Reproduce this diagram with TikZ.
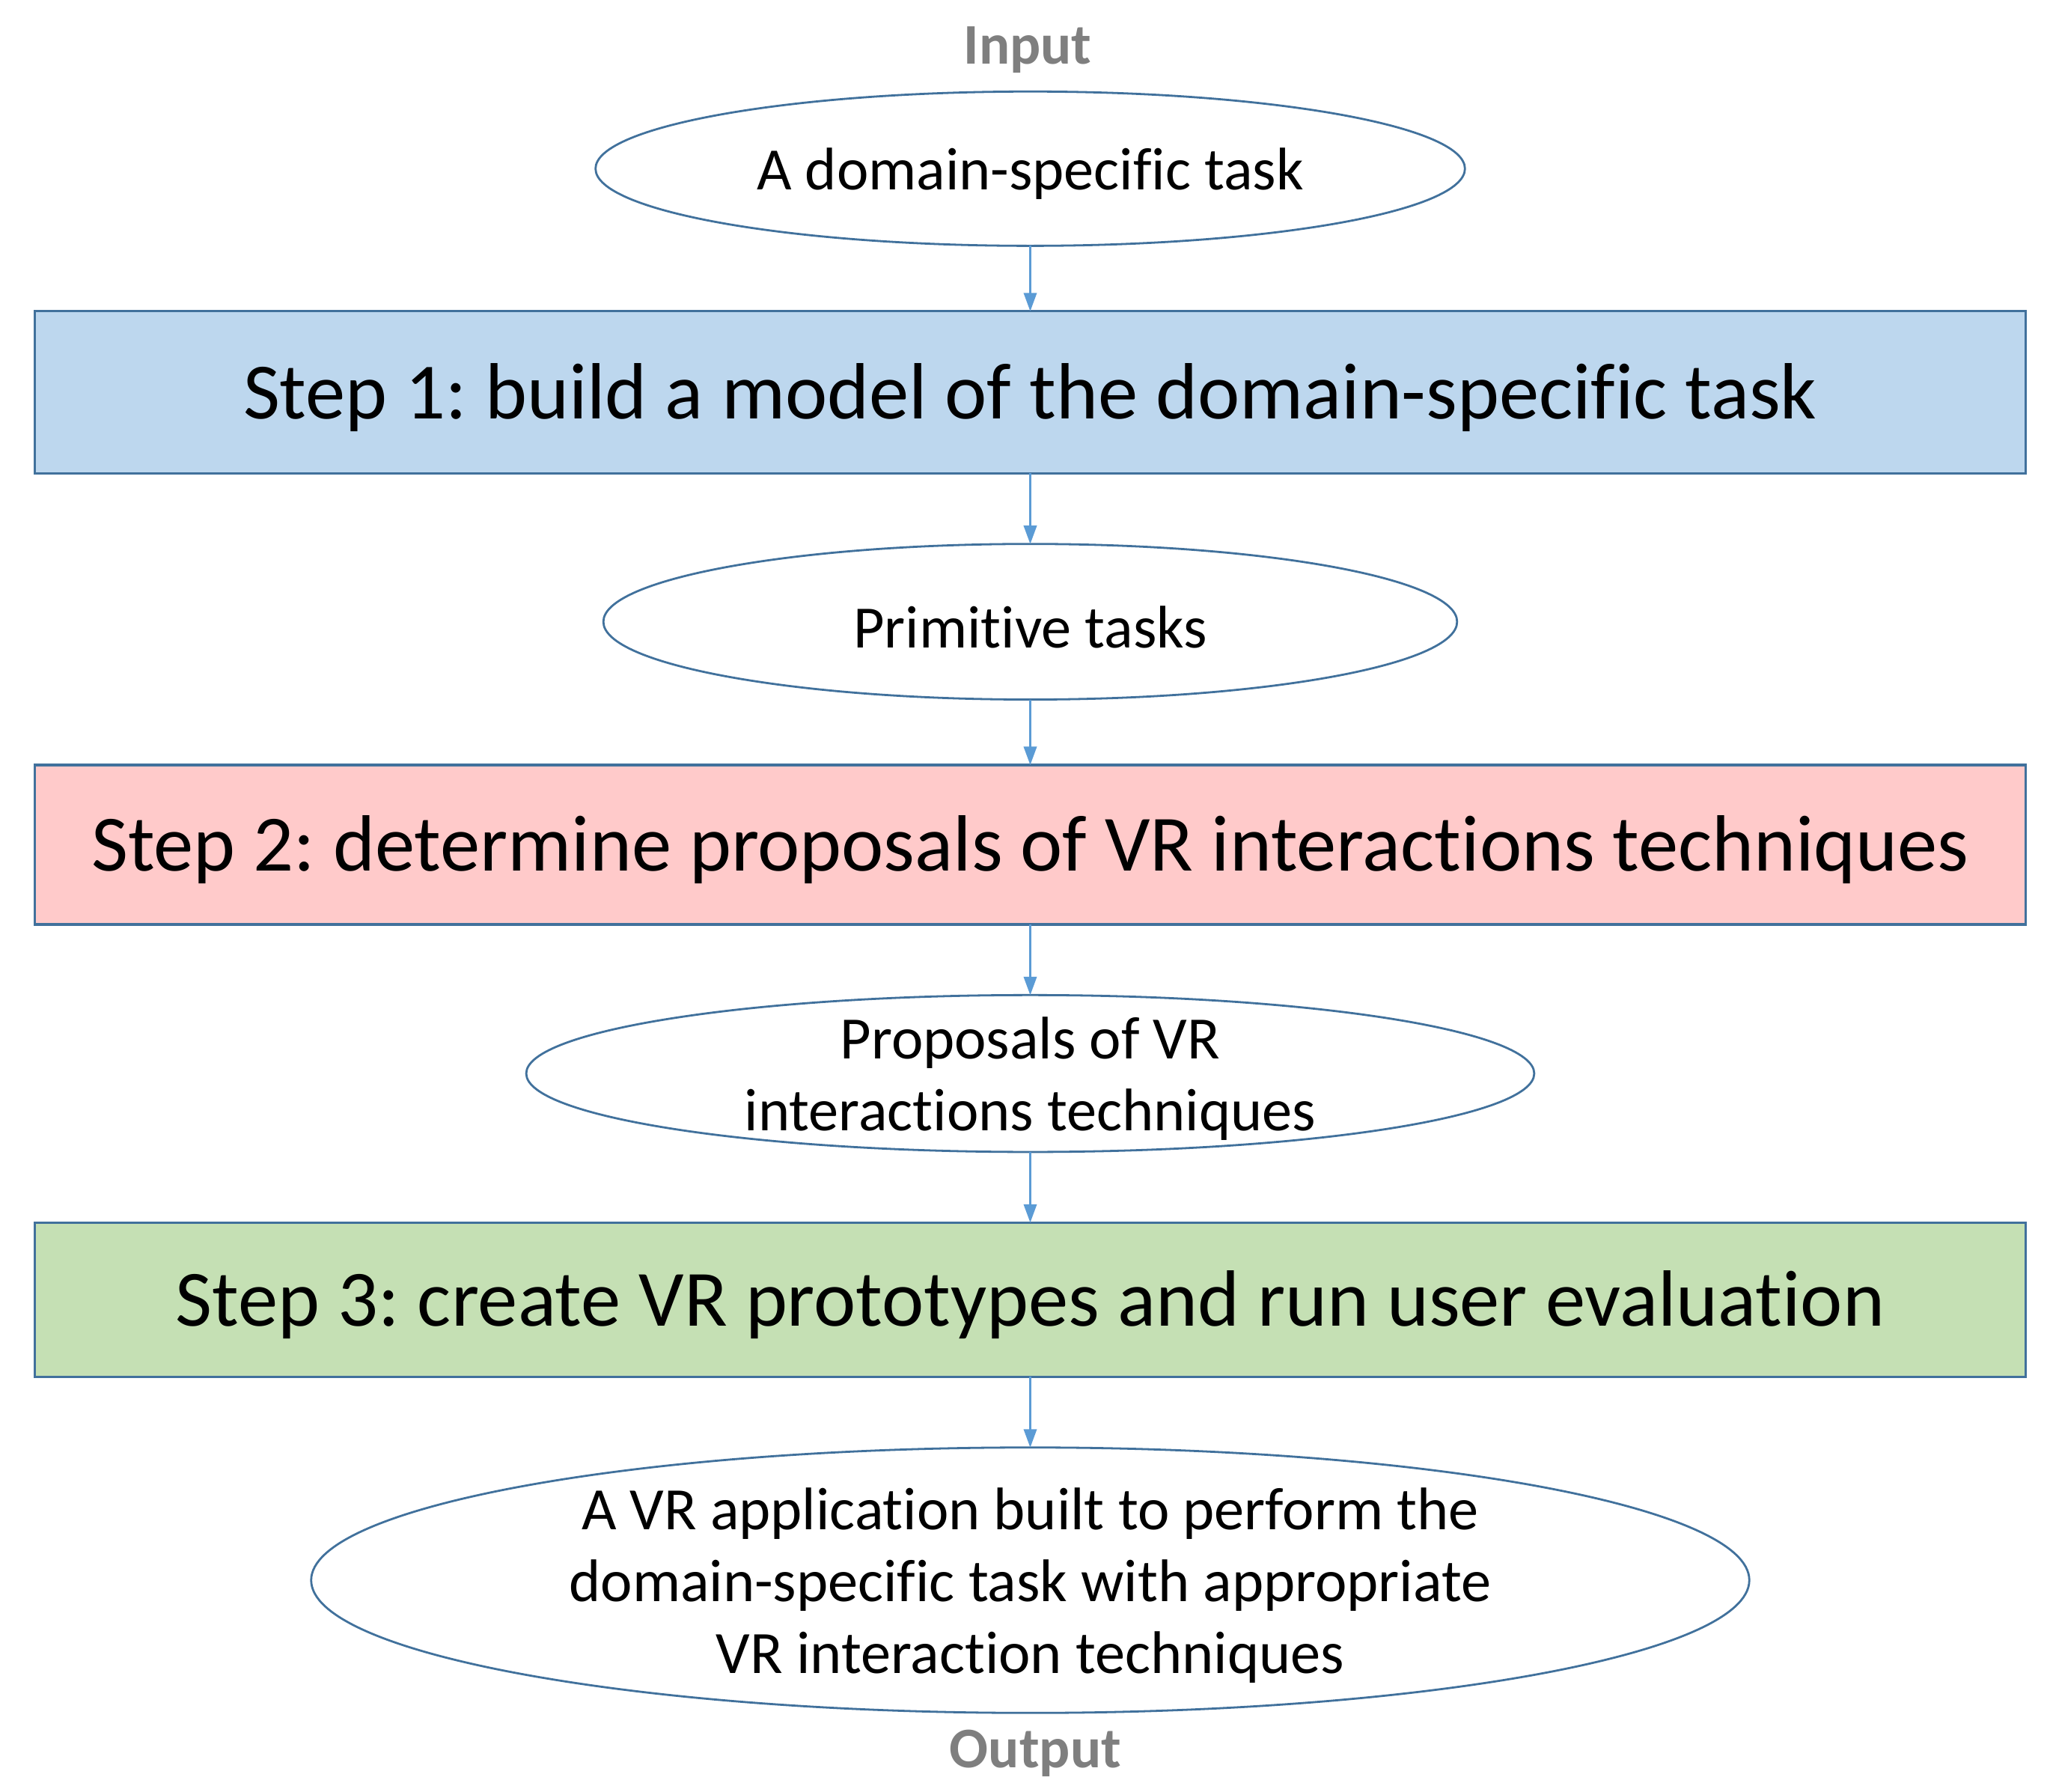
\documentclass[tikz,border=0pt]{standalone}
\usepackage{fontspec}
\setmainfont[Ligatures=NoCommon]{Carlito}
\frenchspacing
\usetikzlibrary{shapes.geometric,arrows.meta}
\definecolor{bordc}{HTML}{41719C}
\definecolor{arrc}{HTML}{5B9BD5}
\definecolor{fillA}{HTML}{BDD7EE}
\definecolor{fillB}{HTML}{FFCACA}
\definecolor{fillC}{HTML}{C5E0B4}
\definecolor{grayt}{HTML}{7F7F7F}
\tikzset{
  ellbox/.style={ellipse, draw=bordc, line width=0.8pt, inner sep=0pt, outer sep=0pt},
  stepbox/.style={rectangle, draw=bordc, line width=1pt, inner sep=0pt, outer sep=0pt,
    minimum width=761.5pt},
  steptext/.style={font=\fontsize{30.5}{36}\selectfont, inner sep=0pt, yshift=-2pt},
  elltext/.style={align=center, font=\fontsize{23}{27.5}\selectfont, inner sep=0pt, yshift=-2pt},
  iolabel/.style={text=grayt, font=\fontsize{22}{26}\selectfont\bfseries, inner sep=0pt, yshift=-1.5pt},
  arr/.style={draw=arrc, line width=0.6pt, -{Triangle[length=7pt,width=5pt]}}
}
\begin{document}
\begin{tikzpicture}[x=0.5pt,y=-0.5pt]
\useasboundingbox (0,0) rectangle (1568,1370);
\node[iolabel] (in) at (786,35) {Input};
\node[ellbox, minimum width=332.5pt, minimum height=59pt] (e1) at (788,129) {};
\node[elltext] (t1) at (e1) {A domain-specific task};
\node[stepbox, fill=fillA, minimum height=62pt] (b1) at (788,300) {};
\node[steptext] (s1) at (b1) {Step 1: build a model of the domain-specific task};
\node[ellbox, minimum width=326.5pt, minimum height=59.5pt] (e2) at (788,475.5) {};
\node[elltext] (t2) at (e2) {Primitive tasks};
\node[stepbox, fill=fillB, minimum height=61pt] (b2) at (788,646) {};
\node[steptext] (s2) at (b2) {Step 2: determine proposals of VR interactions techniques};
\node[ellbox, minimum width=385.5pt, minimum height=60pt] (e3) at (788,821) {};
\node[elltext] (t3) at (e3) {Proposals of VR\\interactions techniques};
\node[stepbox, fill=fillC, minimum height=59pt] (b3) at (788,994) {};
\node[steptext] (s3) at (b3) {Step 3: create VR prototypes and run user evaluation};
\node[ellbox, minimum width=550pt, minimum height=101.5pt] (e4) at (788,1208.5) {};
\node[elltext] (t4) at (e4) {A VR application built to perform the\\domain-specific task with appropriate\\VR interaction techniques};
\node[iolabel] (out) at (792,1338) {Output};
\draw[arr] (e1.south) -- (b1.north);
\draw[arr] (b1.south) -- (e2.north);
\draw[arr] (e2.south) -- (b2.north);
\draw[arr] (b2.south) -- (e3.north);
\draw[arr] (e3.south) -- (b3.north);
\draw[arr] (b3.south) -- (e4.north);
\end{tikzpicture}
\end{document}
